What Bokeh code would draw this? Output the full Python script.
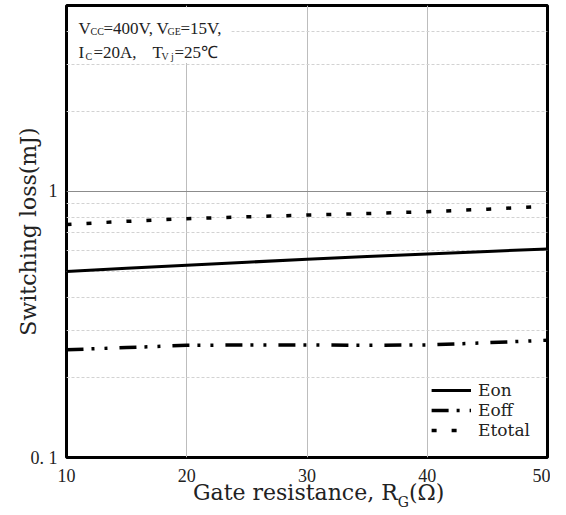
import math
from bokeh.plotting import figure
from bokeh.models import FixedTicker, Label, BoxAnnotation, Range1d, Div
from bokeh.layouts import column
from bokeh.embed import file_html
from bokeh.resources import INLINE

# ---- data ----
rg = [10, 15, 20, 25, 30, 35, 40, 45, 50]
eon = [0.500, 0.514, 0.528, 0.542, 0.556, 0.569, 0.582, 0.595, 0.608]
eoff = [0.254, 0.259, 0.264, 0.265, 0.265, 0.264, 0.265, 0.270, 0.276]
etotal = [0.752, 0.772, 0.790, 0.803, 0.815, 0.826, 0.839, 0.858, 0.879]

x_ticks = [10, 20, 30, 40, 50]
y_ticks = [0.1, 1]
y_minor = [0.2, 0.3, 0.4, 0.5, 0.6, 0.7, 0.8, 0.9, 2, 3, 4]
y_tick_labels = {0.1: "0. 1", 1: "1"}

TXT = "#222222"
SERIF = "DejaVu Serif"
ANN = "Liberation Serif"

p = figure(width=550, height=487, y_axis_type="log",
           x_range=Range1d(10, 50), y_range=Range1d(0.1, 5),
           output_backend="svg", toolbar_location=None,
           min_border_left=66, min_border_right=3,
           min_border_top=5, min_border_bottom=30)

p.outline_line_color = "black"
p.outline_line_width = 3
p.outline_line_alpha = 1

# axes
p.xaxis.ticker = FixedTicker(ticks=x_ticks)
p.yaxis.ticker = FixedTicker(ticks=y_ticks, minor_ticks=y_minor)
p.yaxis.major_label_overrides = y_tick_labels
for ax in (p.xaxis, p.yaxis):
    ax.axis_line_color = None
    ax.major_tick_line_color = None
    ax.minor_tick_line_color = None
    ax.major_label_text_font = ANN
    ax.major_label_text_font_size = "18px"
    ax.major_label_text_color = TXT
p.xaxis.major_label_standoff = 5
p.yaxis.major_label_standoff = 3
p.xaxis.axis_label = None
p.yaxis.axis_label = "Switching loss(mJ)"
p.yaxis.axis_label_text_font = SERIF
p.yaxis.axis_label_text_font_size = "22px"
p.yaxis.axis_label_text_font_style = "normal"
p.yaxis.axis_label_text_color = TXT
p.yaxis.axis_label_standoff = -13

# grids
p.xgrid.grid_line_color = "#bdbdbd"
p.xgrid.grid_line_width = 1
p.ygrid.grid_line_color = "#8c8c8c"
p.ygrid.grid_line_width = 1
p.ygrid.minor_grid_line_color = "#d2d2d2"
p.ygrid.minor_grid_line_dash = "3 2"
p.ygrid.minor_grid_line_width = 1

# white area behind the condition text
p.add_layout(BoxAnnotation(left=10.25, right=23.7, bottom=3.04, top=4.93,
                           fill_color="white", fill_alpha=1, line_color=None))

# series
p.line(rg, eon, line_color="black", line_width=3, legend_label="Eon")
p.line(rg, eoff, line_color="black", line_width=3.5,
       line_dash="17 8 3 10 3 12", legend_label="Eoff")
p.line(rg, etotal, line_color="black", line_width=3.5,
       line_dash="5 15", legend_label="Etotal")

lg = p.legend[0]
lg.location = "bottom_right"
lg.border_line_color = None
lg.background_fill_color = "white"
lg.background_fill_alpha = 1
lg.label_text_font = SERIF
lg.label_text_font_size = "17px"
lg.label_text_color = TXT
lg.glyph_width = 40
lg.glyph_height = 20
lg.label_height = 20
lg.label_standoff = 7
lg.spacing = 0
lg.padding = 8
lg.margin = 17

# text helpers (screen units relative to the frame: left=66, bottom=457 in picture px)
FL, FB = 66, 457


def lab(text, px, py, size, font=ANN):
    p.add_layout(Label(x=px - FL, y=FB - py, x_units="screen", y_units="screen",
                       text=text, text_font=font, text_font_size=f"{size}px",
                       text_color=TXT, text_baseline="alphabetic",
                       text_align="left"))


# condition annotation
lab("V", 78, 28, 17)
lab("CC", 90, 31, 10)
lab("=400V,", 103, 28, 17)
lab("V", 156, 28, 17)
lab("GE", 167, 31, 10)
lab("=15V,", 180, 28, 17)
lab("I", 78, 52, 17)
lab("C", 85, 56, 10)
lab("=20A,", 93, 52, 17)
lab("T", 152, 52, 17)
lab("V j", 161, 56, 10)
lab("=25℃", 174, 52, 17)

# x-axis title (with subscript) as real HTML text below the plot
xtitle = Div(
    text=('<div style="position:relative; top:-10px; padding-left:188px; '
          'font-family:\'DejaVu Serif\'; font-size:22px; line-height:22px; '
          'color:#222222; white-space:nowrap;">Gate resistance, R'
          '<span style="font-size:14px; position:relative; top:7px;">G</span>'
          '(Ω)</div>'),
    width=550, height=28)

layout = column(p, xtitle, spacing=0)
open("out.html", "w").write(file_html(layout, INLINE))
